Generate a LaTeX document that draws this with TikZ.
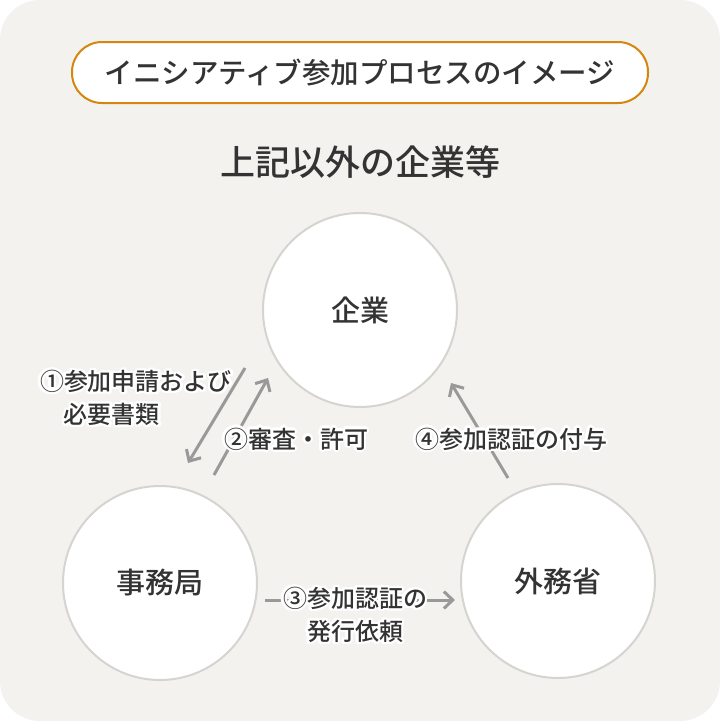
\documentclass[tikz,border=0pt]{standalone}
\usepackage{fontspec}
\setmainfont{Noto Sans CJK JP}[UprightFont = * Medium]
\usepackage[copies]{contour}
\contourlength{2.2pt}
\contournumber{24}
\usetikzlibrary{arrows.meta}
\definecolor{paper}{HTML}{F3F2EF}
\definecolor{ink}{HTML}{333333}
\definecolor{rim}{HTML}{D6D4D1}
\definecolor{pen}{HTML}{999999}
\definecolor{gold}{HTML}{D4860F}
\newcommand{\halo}[1]{\contour{white}{#1}}
\begin{document}
\begin{tikzpicture} [x = 1pt, y = -1pt, text = ink,
  party/.style = {circle, draw = rim, line width = 2pt, fill = white, minimum size = 194pt, inner sep = 0pt, font = \fontsize{29}{34}\selectfont},
  step label/.style = {inner sep = 1pt, align = left, font = \fontsize{24}{33}\selectfont},
  flow/.style = {draw = pen, line width = 3pt, -{Straight Barb[length = 9pt, width = 17pt, line width = 3pt]}}]
% paper
\useasboundingbox (0,0) rectangle (720,721);
\fill[white] (0,0) rectangle (720,721);
\fill[paper, rounded corners = 40pt] (0,0) rectangle (720,721);
% headings
\node[draw = gold, line width = 2pt, fill = white, rounded corners = 30pt, minimum width = 576pt, minimum height = 61pt, font = \fontsize{28.5}{32}\selectfont] (title) at (360,72.5) {イニシアティブ参加プロセスのイメージ};
\node[font = \fontsize{35}{40}\selectfont] (group) at (360,162) {上記以外の企業等};
% parties
\node[party] (kigyo) at (360,310) {企業};
\node[party] (jimukyoku) at (160,583) {事務局};
\node[party] (gaimusho) at (558,581) {外務省};
% arrow ends
\coordinate (apply top) at (245,368);
\coordinate (apply end) at (188,463);
\coordinate (review top) at (268,378);
\coordinate (review end) at (214,475);
\coordinate (issue start) at (265,600);
\coordinate (issue end) at (455,600);
\coordinate (grant start) at (508,478);
\coordinate (grant end) at (451,383);
% steps
\draw[flow] (apply top) -- (apply end);
\draw[flow] (review end) -- (review top);
\draw[flow] (issue start) -- (issue end);
\draw[flow] (grant start) -- (grant end);
\node[step label] (apply) at (136,399) {\halo{①参加申請および}\\\hspace*{1em}\halo{必要書類}};
\node[step label] (review) at (296,440) {\halo{②審査・許可}};
\node[step label, align = center] (issue) at (355,616) {\halo{③参加認証の}\\\halo{発行依頼}};
\node[step label] (grant) at (511,440) {\halo{④参加認証の付与}};
\end{tikzpicture}
\end{document}
